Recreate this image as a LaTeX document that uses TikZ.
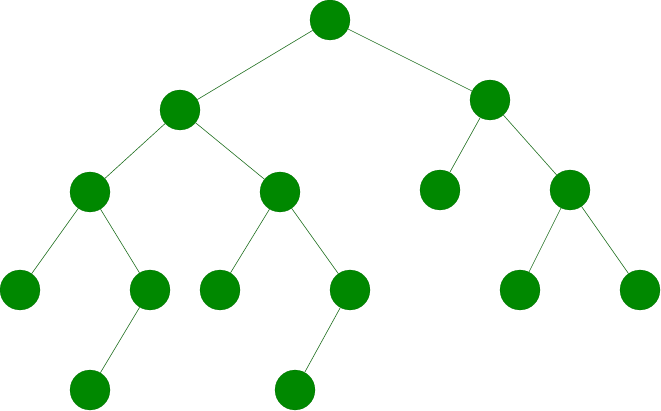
\documentclass[tikz,border=0pt]{standalone}

\definecolor{leafgreen}{RGB}{0,136,0}
\definecolor{edgegreen}{RGB}{30,110,30}

\begin{document}
\begin{tikzpicture}[x=1pt, y=-1pt,
    vertex/.style={circle, fill=leafgreen, draw=leafgreen!80!black, line width=0.2pt, minimum size=40pt, inner sep=0pt},
    branch/.style={draw=edgegreen, line width=0.6pt}]
  \useasboundingbox (0, 0) rectangle (661, 411);
  \node[vertex] (root) at (330, 20) {};
  \node[vertex] (l) at (180, 110) {};
  \node[vertex] (r) at (490, 100) {};
  \node[vertex] (ll) at (90, 192) {};
  \node[vertex] (lr) at (280, 192) {};
  \node[vertex] (rl) at (440, 190) {};
  \node[vertex] (rr) at (570, 190) {};
  \node[vertex] (lll) at (20, 290) {};
  \node[vertex] (llr) at (150, 290) {};
  \node[vertex] (lrl) at (220, 290) {};
  \node[vertex] (lrr) at (350, 290) {};
  \node[vertex] (rrl) at (520, 290) {};
  \node[vertex] (rrr) at (640, 290) {};
  \node[vertex] (llrl) at (90, 390) {};
  \node[vertex] (lrrl) at (295, 390) {};
  \foreach \a/\b in {root/l, root/r, l/ll, l/lr, r/rl, r/rr, ll/lll, ll/llr,
                     lr/lrl, lr/lrr, rr/rrl, rr/rrr, llr/llrl, lrr/lrrl}{
    \draw[branch] (\a) -- (\b);
  }
\end{tikzpicture}
\end{document}
